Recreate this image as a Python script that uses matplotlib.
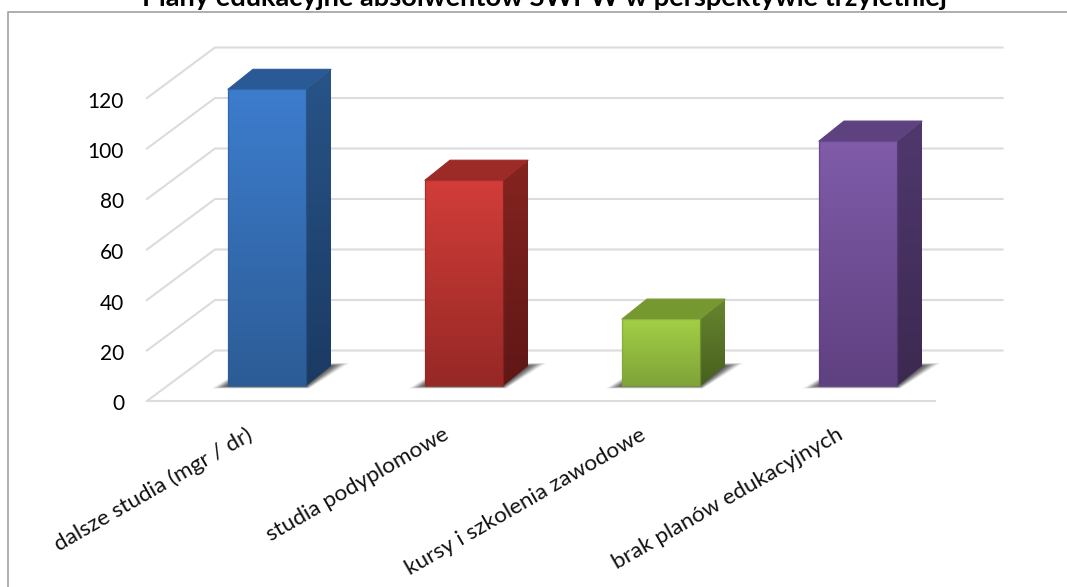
import numpy as np
import matplotlib
matplotlib.use("Agg")
import matplotlib.pyplot as plt
from matplotlib.colors import LinearSegmentedColormap
from matplotlib.lines import Line2D
from matplotlib.patches import Polygon
from matplotlib.transforms import ScaledTranslation

categories = ["dalsze studia (mgr / dr)", "studia podyplomowe",
              "kursy i szkolenia zawodowe", "brak planów edukacyjnych"]
values = [117.5, 81.5, 26.5, 97]
y_ticks = [0, 20, 40, 60, 80, 100, 120]
title = "Plany edukacyjne absolwentów SWPW w perspektywie trzyletniej"

front_cols = [("#3D7DCE", "#2C5C96"), ("#D23D39", "#962825"),
              ("#A2CF46", "#7FA338"), ("#805CA9", "#5F4080")]
side_cols = [("#285488", "#1B3A62"), ("#85241F", "#5F1716"),
             ("#67862F", "#475F1E"), ("#50386E", "#3C2950")]
top_cols = ["#2A5A96", "#9C2A26", "#769830", "#5E4280"]

W, H = 1067, 587
plt.rcParams["font.family"] = ["Lato", "DejaVu Sans"]
fig = plt.figure(figsize=(W / 100, H / 100), dpi=100)

# plot rectangle in pixels: x 147..1002, y 401 (value 0)..47.5 (value 140)
ax = fig.add_axes([147 / W, 1 - 401 / H, (1002 - 147) / W, (401 - 47.5) / H])
PX_X = 197.0       # pixels per category
PX_Y = 2.525       # pixels per value unit
ax.set_xlim(0, (1002 - 147) / PX_X)
ax.set_ylim(0, 140)
for s in ax.spines.values():
    s.set_visible(False)

WALL_DX = 68 / PX_X
WALL_DY = 50.5 / PX_Y
GRID = "#dcdcdc"
for v in y_ticks:
    ax.plot([0, WALL_DX, 4 + WALL_DX - 0.002], [v, v + WALL_DY, v + WALL_DY],
            color=GRID, lw=1.5, solid_joinstyle="miter", zorder=1, clip_on=False)
ax.plot([0, 4], [0, 0], color=GRID, lw=1.5, zorder=1, clip_on=False)


def grad_face(pts, c_top, c_bot, z):
    pts = np.array(pts)
    cmap = LinearSegmentedColormap.from_list("g", [c_top, c_bot])
    im = ax.imshow(np.linspace(0, 1, 256).reshape(-1, 1), cmap=cmap, aspect="auto",
                   origin="upper", interpolation="bilinear",
                   extent=[pts[:, 0].min(), pts[:, 0].max(),
                           pts[:, 1].min(), pts[:, 1].max()], zorder=z)
    poly = Polygon(pts, closed=True, transform=ax.transData, fc="none", ec="none")
    ax.add_patch(poly)
    im.set_clip_path(poly)


BAR_W = 78 / PX_X
FX = 21.5 / PX_X      # category centre -> bar front face, horizontal shift
FY = 15 / PX_Y        # floor level of the bar front
DX = 25 / PX_X        # bar depth
DY = 20 / PX_Y

for i, (val, fc, sc, tc) in enumerate(zip(values, front_cols, side_cols, top_cols)):
    x0 = i + 0.5 - BAR_W / 2 + FX
    x1 = x0 + BAR_W
    y0, y1 = FY, FY + val
    # soft floor shadow: layers that shrink from the outer outline to the footprint
    outer = np.array([(x0 - 16 / PX_X, y0 - 2.5 / PX_Y), (x1 + 3 / PX_X, y0 - 2.5 / PX_Y),
                      (x1 + DX + 18 / PX_X, y0 + DY + 3 / PX_Y), (x0 + DX, y0 + DY + 3 / PX_Y)])
    inner = np.array([(x0, y0), (x1, y0), (x1 + DX, y0 + DY), (x0 + DX, y0 + DY)])
    n = 14
    for k in range(n):
        t = (k / (n - 1)) ** 0.7
        ax.add_patch(Polygon(outer * (1 - t) + inner * t, closed=True, fc="#333333",
                             ec="none", alpha=0.11, zorder=2))
    grad_face([(x1, y0), (x1 + DX, y0 + DY), (x1 + DX, y1 + DY), (x1, y1)], sc[0], sc[1], 3)
    ax.add_patch(Polygon([(x0, y1), (x1, y1), (x1 + DX, y1 + DY), (x0 + DX, y1 + DY)],
                         closed=True, fc=tc, ec=tc, lw=0.8, joinstyle="round", zorder=3))
    grad_face([(x0, y0), (x1, y0), (x1, y1), (x0, y1)], fc[0], fc[1], 4)
    ax.add_patch(Polygon([(x0, y0), (x1, y0), (x1, y1), (x0, y1)], closed=True,
                         fc="none", ec=fc[1], alpha=0.6, lw=1.0,
                         joinstyle="round", zorder=5))

ax.set_xlim(0, (1002 - 147) / PX_X)
ax.set_ylim(0, 140)
ax.patch.set_visible(False)

ax.set_yticks(y_ticks)
ax.set_yticklabels([str(v) for v in y_ticks], fontsize=15, color="black")
ax.tick_params(axis="y", length=0, pad=16.5)
shift = ScaledTranslation(0, -1.5 / 100, fig.dpi_scale_trans)
for lab in ax.get_yticklabels():
    lab.set_transform(lab.get_transform() + shift)
ax.set_xticks(np.arange(len(categories)) + 0.5)
ax.set_xticklabels(categories, fontsize=16.2, rotation=30, ha="right",
                   rotation_mode="anchor", color="#111111")
ax.tick_params(axis="x", length=0, pad=17)

# frame visible at the left and top of the picture
fig.add_artist(Line2D([7.5 / W, 7.5 / W, 1], [0, 1 - 12 / H, 1 - 12 / H],
                      color="#a8a8a8", lw=1.3, transform=fig.transFigure))
fig.text(544 / W, 1 - 6 / H, title, ha="center", va="baseline",
         fontsize=19.6, fontweight="bold", color="black")

fig.savefig("out.png", dpi=100)
